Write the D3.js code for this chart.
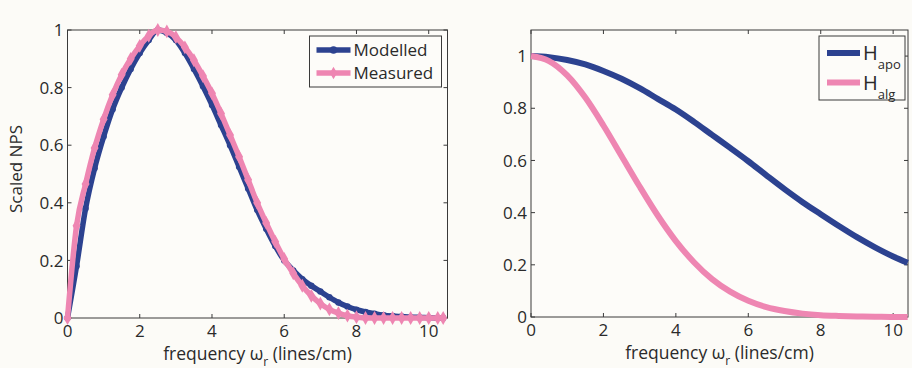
<!DOCTYPE html>
<html>
<head>
<meta charset="utf-8">
<script src="https://cdn.jsdelivr.net/npm/d3@7"></script>
<style>
  html, body { margin: 0; padding: 0; background: #fcfbf7; }
  svg { display: block; }
  text { font-family: 'Open Sans', 'Liberation Sans', sans-serif; fill: #2a2a2a; }
</style>
</head>
<body>
<svg id="chart" width="912" height="368"></svg>
<script>
// left panel: scaled NPS
const npsFreq = [0, 0.25, 0.5, 0.75, 1.0, 1.25, 1.5, 1.75, 2.0, 2.25, 2.5, 2.75, 3.0, 3.25, 3.5, 3.75,
	4.0, 4.25, 4.5, 4.75, 5.0, 5.25, 5.5, 5.75, 6.0, 6.25, 6.5, 6.75, 7.0, 7.25, 7.5, 7.75, 8.0,
	8.25, 8.5, 8.75, 9.0, 9.25, 9.5, 9.75, 10.0, 10.25, 10.4];
const modelled = [0, 0.18, 0.38, 0.52, 0.63, 0.725, 0.8, 0.865, 0.92, 0.965, 1.0, 0.99, 0.965, 0.92, 0.865, 0.805,
	0.74, 0.67, 0.6, 0.525, 0.45, 0.375, 0.31, 0.25, 0.2, 0.165, 0.135, 0.112, 0.092, 0.072, 0.054, 0.04, 0.029,
	0.021, 0.015, 0.01, 0.007, 0.005, 0.003, 0.002, 0.001, 0, 0];
const measured = [0, 0.32, 0.465, 0.59, 0.69, 0.775, 0.845, 0.9, 0.945, 0.98, 1.0, 0.995, 0.975, 0.94, 0.895, 0.84,
	0.78, 0.71, 0.635, 0.56, 0.48, 0.4, 0.33, 0.265, 0.205, 0.155, 0.112, 0.077, 0.05, 0.03, 0.017, 0.008, 0.003,
	0, 0, 0, 0, 0, 0, 0, 0, 0, 0];

// right panel: filters
const filtFreq = [0, 0.5, 1, 1.5, 2, 2.5, 3, 3.5, 4, 4.5, 5, 5.5, 6, 6.5, 7, 7.5, 8, 8.5, 9, 9.5, 10, 10.4];
const hApo = [1.0, 0.996, 0.985, 0.968, 0.943, 0.913, 0.877, 0.836, 0.795, 0.748, 0.698, 0.648, 0.597, 0.543,
	0.49, 0.44, 0.394, 0.349, 0.306, 0.267, 0.232, 0.208];
const hAlg = [1.0, 0.981, 0.926, 0.841, 0.734, 0.617, 0.5, 0.389, 0.291, 0.21, 0.145, 0.097, 0.062, 0.038,
	0.023, 0.013, 0.007, 0.004, 0.002, 0.001, 0, 0];

const xTicks = [0, 2, 4, 6, 8, 10];
const leftYTicks = [0, 0.2, 0.4, 0.6, 0.8, 1];
const rightYTicks = [0, 0.2, 0.4, 0.6, 0.8, 1];

const blue = '#2c4290';
const pink = '#ee86b2';
const axisColor = '#3a3a3a';

const svg = d3.select('#chart');

function drawAxes(g, x, y, yTicks, w, h) {
	const tickLen = 4;

	g.append('rect')
		.attr('width', w)
		.attr('height', h)
		.attr('fill', '#fdfcf9')
		.attr('stroke', axisColor)
		.attr('stroke-width', 1);

	// ticks inside on all four sides, matlab style
	xTicks.forEach(t => {
		g.append('line').attr('x1', x(t)).attr('x2', x(t)).attr('y1', h).attr('y2', h - tickLen)
			.attr('stroke', axisColor);
		g.append('line').attr('x1', x(t)).attr('x2', x(t)).attr('y1', 0).attr('y2', tickLen)
			.attr('stroke', axisColor);
		g.append('text')
			.attr('x', x(t))
			.attr('y', h + 19)
			.attr('text-anchor', 'middle')
			.attr('font-size', '17px')
			.text(d3.format('d')(t));
	});

	yTicks.forEach(t => {
		g.append('line').attr('x1', 0).attr('x2', tickLen).attr('y1', y(t)).attr('y2', y(t))
			.attr('stroke', axisColor);
		g.append('line').attr('x1', w).attr('x2', w - tickLen).attr('y1', y(t)).attr('y2', y(t))
			.attr('stroke', axisColor);
		g.append('text')
			.attr('x', -4)
			.attr('y', y(t))
			.attr('dy', '0.36em')
			.attr('text-anchor', 'end')
			.attr('font-size', '17px')
			.text(t === 0 || t === 1 ? String(t) : d3.format('.1f')(t));
	});

	const label = g.append('text')
		.attr('x', w / 2)
		.attr('y', h + 41.5)
		.attr('text-anchor', 'middle')
		.attr('font-size', '17.5px');
	label.append('tspan').text('frequency  ω');
	label.append('tspan').attr('font-size', '12px').attr('dy', 6).text('r');
	label.append('tspan').attr('dy', -6).text(' (lines/cm)');
}

// ---- left panel
{
	const w = 380, h = 288;
	const g = svg.append('g').attr('transform', 'translate(67.5,30)');
	const x = d3.scaleLinear().domain([0, 10.52]).range([0, w]);
	const y = d3.scaleLinear().domain([0, 1]).range([h, 0]);

	drawAxes(g, x, y, leftYTicks, w, h);

	g.append('text')
		.attr('transform', `translate(-46,${h / 2 - 5}) rotate(-90)`)
		.attr('text-anchor', 'middle')
		.attr('font-size', '17px')
		.text('Scaled NPS');

	const line = d3.line().x(d => x(d[0])).y(d => y(d[1])).curve(d3.curveMonotoneX);

	const modPts = npsFreq.map((f, i) => [f, modelled[i]]);
	const meaPts = npsFreq.map((f, i) => [f, measured[i]]);

	g.append('path')
		.attr('d', line(modPts))
		.attr('fill', 'none')
		.attr('stroke', blue)
		.attr('stroke-width', 5.5);

	g.selectAll('.mod-dot')
		.data(modPts)
		.enter().append('circle')
		.attr('class', 'mod-dot')
		.attr('cx', d => x(d[0]))
		.attr('cy', d => y(d[1]))
		.attr('r', 3.2)
		.attr('fill', blue);

	g.append('path')
		.attr('d', line(meaPts))
		.attr('fill', 'none')
		.attr('stroke', pink)
		.attr('stroke-width', 5.5);

	g.selectAll('.mea-dot')
		.data(meaPts)
		.enter().append('path')
		.attr('class', 'mea-dot')
		.attr('transform', d => `translate(${x(d[0])},${y(d[1])})`)
		.attr('d', d3.symbol(d3.symbolDiamond, 55))
		.attr('fill', pink);

	// legend
	const lg = g.append('g').attr('transform', 'translate(242,6)');
	lg.append('rect').attr('width', 132).attr('height', 51)
		.attr('fill', '#fdfcf9').attr('stroke', axisColor);
	[['Modelled', blue], ['Measured', pink]].forEach(([name, c], i) => {
		const yy = 14 + i * 23;
		lg.append('line').attr('x1', 7).attr('x2', 41).attr('y1', yy).attr('y2', yy)
			.attr('stroke', c).attr('stroke-width', 5.5);
		lg.append('path').attr('transform', `translate(24,${yy})`)
			.attr('d', d3.symbol(i === 0 ? d3.symbolCircle : d3.symbolDiamond, 45)).attr('fill', c);
		lg.append('text').attr('x', 44).attr('y', yy).attr('dy', '0.36em')
			.attr('font-size', '17px').text(name);
	});
}

// ---- right panel
{
	const w = 377, h = 287;
	const g = svg.append('g').attr('transform', 'translate(531,30)');
	const x = d3.scaleLinear().domain([0, 10.41]).range([0, w]);
	const y = d3.scaleLinear().domain([0, 1.1]).range([h, 0]);

	drawAxes(g, x, y, rightYTicks, w, h);

	const line = d3.line().x(d => x(d[0])).y(d => y(d[1])).curve(d3.curveMonotoneX);

	g.append('path')
		.attr('d', line(filtFreq.map((f, i) => [f, hApo[i]])))
		.attr('fill', 'none')
		.attr('stroke', blue)
		.attr('stroke-width', 6);

	g.append('path')
		.attr('d', line(filtFreq.map((f, i) => [f, hAlg[i]])))
		.attr('fill', 'none')
		.attr('stroke', pink)
		.attr('stroke-width', 6);

	const lg = g.append('g').attr('transform', 'translate(288,6)');
	lg.append('rect').attr('width', 86).attr('height', 64)
		.attr('fill', '#fdfcf9').attr('stroke', axisColor);
	[['apo', blue], ['alg', pink]].forEach(([sub, c], i) => {
		const yy = 17 + i * 29.5;
		lg.append('line').attr('x1', 8).attr('x2', 41).attr('y1', yy).attr('y2', yy)
			.attr('stroke', c).attr('stroke-width', 6);
		const t = lg.append('text').attr('x', 44).attr('y', yy).attr('dy', '0.36em')
			.attr('font-size', '20px');
		t.append('tspan').text('H');
		t.append('tspan').attr('font-size', '13px').attr('dy', 9).text(sub);
	});
}
</script>
</body>
</html>
